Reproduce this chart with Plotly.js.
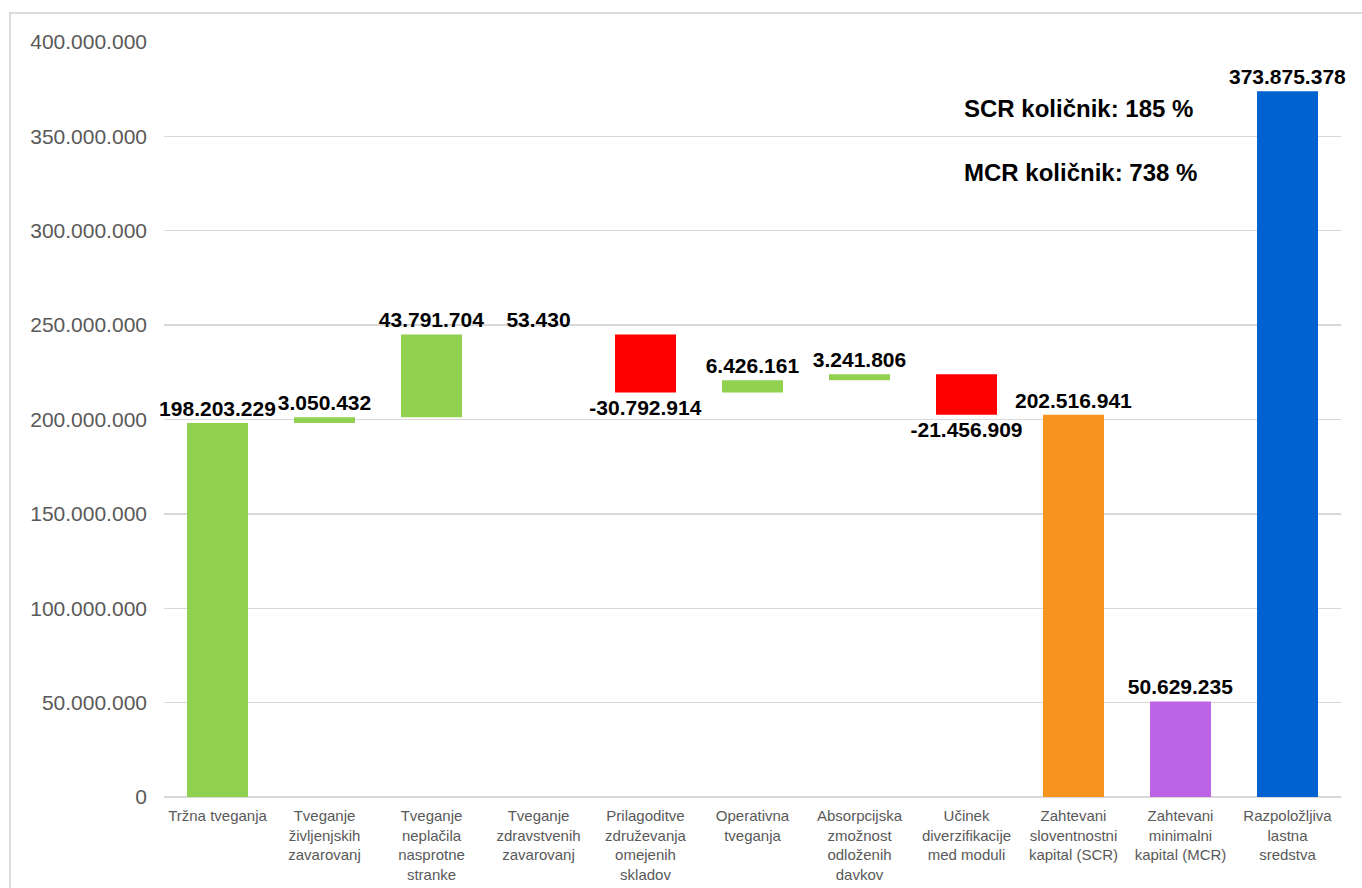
<!DOCTYPE html>
<html>
<head>
<meta charset="utf-8">
<script src="https://cdn.plot.ly/plotly-3.0.1.min.js"></script>
<style>
html,body{margin:0;padding:0;background:#fff;}
#wrap{position:relative;width:1362px;height:888px;overflow:hidden;}
#chart{position:absolute;left:0;top:0;width:1362px;height:888px;}
#frame{position:absolute;left:9px;top:12px;width:1400px;height:900px;border-left:2px solid #dcdcdc;border-top:2px solid #dcdcdc;pointer-events:none;}
</style>
</head>
<body>
<div id="wrap"><div id="chart"></div><div id="frame"></div></div>
<script>
// ---- data ----
const categories = [
  "Tržna tveganja",
  "Tveganje<br>življenjskih<br>zavarovanj",
  "Tveganje<br>neplačila<br>nasprotne<br>stranke",
  "Tveganje<br>zdravstvenih<br>zavarovanj",
  "Prilagoditve<br>združevanja<br>omejenih<br>skladov",
  "Operativna<br>tveganja",
  "Absorpcijska<br>zmožnost<br>odloženih<br>davkov",
  "Učinek<br>diverzifikacije<br>med moduli",
  "Zahtevani<br>sloventnostni<br>kapital (SCR)",
  "Zahtevani<br>minimalni<br>kapital (MCR)",
  "Razpoložljiva<br>lastna<br>sredstva"
];
const values = [198203229, 3050432, 43791704, 53430, -30792914, 6426161, 3241806, -21456909, 202516941, 50629235, 373875378];
const kinds  = ["delta","delta","delta","delta","delta","delta","delta","delta","total","total","total"];
const totalColors = ["#f7941d", "#bd64e6", "#0062d1"];
const ratioNotes = ["SCR količnik: 185 %", "MCR količnik: 738 %"];
const ratioNoteY = [365000000, 331000000];
const yTicks = [0, 50000000, 100000000, 150000000, 200000000, 250000000, 300000000, 350000000, 400000000];

// ---- derived ----
function fmt(v){
  const s = Math.abs(v).toString().replace(/\B(?=(\d{3})+(?!\d))/g, ".");
  return (v < 0 ? "-" : "") + s;
}
let running = 0, ti = 0;
const bases = [], colors = [];
values.forEach((v, i) => {
  if (kinds[i] === "delta") {
    bases.push(running);
    running += v;
    colors.push(v >= 0 ? "#92d050" : "#ff0000");
  } else {
    bases.push(0);
    colors.push(totalColors[ti++]);
  }
});

const labelFont = {family: "Liberation Sans, Arial, sans-serif", size: 21, color: "#000", weight: "bold"};
const trace = {
  type: "bar",
  x: categories,
  y: values,
  base: bases,
  marker: {color: colors, line: {width: 0}},
  text: values.map(fmt),
  textposition: "outside",
  constraintext: "none",
  cliponaxis: false,
  textfont: labelFont,
  outsidetextfont: labelFont,
  hoverinfo: "skip",
  width: 0.57
};

const layout = {
  width: 1362, height: 888,
  margin: {l: 164, r: 21, t: 42, b: 91, pad: 0},
  paper_bgcolor: "#ffffff", plot_bgcolor: "#ffffff",
  separators: ",.",
  showlegend: false,
  font: {family: "Liberation Sans, Arial, sans-serif", color: "#595959"},
  xaxis: {
    type: "category", tickangle: 0, ticks: "", showgrid: false,
    showline: false, zeroline: false,
    tickfont: {size: 15, color: "#595959"},
    ticklabelstandoff: 8
  },
  yaxis: {
    range: [0, 400000000], tickvals: yTicks, tickformat: ",d",
    showgrid: true, gridcolor: "#d9d9d9", gridwidth: 1.4,
    zeroline: true, zerolinecolor: "#d9d9d9", zerolinewidth: 1.4,
    showline: false, ticks: "",
    tickfont: {size: 21, color: "#595959"},
    ticklabelstandoff: 16
  },
  annotations: ratioNotes.map((t, i) => ({
    text: t, xref: "paper", yref: "y", x: 0.678, y: ratioNoteY[i],
    xanchor: "left", yanchor: "middle", showarrow: false,
    font: {family: "Liberation Sans, Arial, sans-serif", size: 24, color: "#000", weight: "bold"}
  }))
};

Plotly.newPlot("chart", [trace], layout, {displayModeBar: false, staticPlot: true});
</script>
</body>
</html>
